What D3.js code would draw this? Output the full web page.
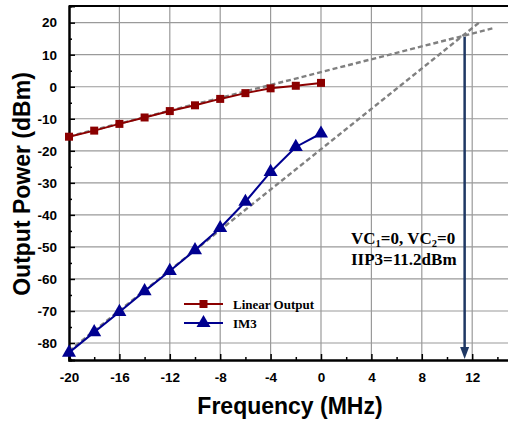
<!DOCTYPE html>
<html><head><meta charset="utf-8">
<script src="https://cdn.jsdelivr.net/npm/d3@7"></script>
<style>body{margin:0;background:#fff}svg{display:block}</style>
</head><body>
<svg id="c" width="508" height="421"></svg>
<script>
const freq = [-20,-18,-16,-14,-12,-10,-8,-6,-4,-2,0];
const linearOutput = [-15.6,-13.7,-11.6,-9.6,-7.6,-5.8,-3.8,-2.0,-0.5,0.3,1.2];
const im3 = [-83.0,-76.6,-70.3,-63.8,-57.5,-51.0,-44.1,-35.9,-26.6,-18.8,-14.6];
const linearFitX = [-20, 13.6];
const linearFitY = [-15.5, 18.2];
const im3FitX = [-20, 12.6];
const im3FitY = [-82.5, 20.2];
const iip3X = 11.4, iip3Y = 16.2;
const xTicks = [-20,-16,-12,-8,-4,0,4,8,12];
const yTicks = [-80,-70,-60,-50,-40,-30,-20,-10,0,10,20];
const legendLabels = ["Linear Output","IM3"];

const svg = d3.select("#c");
const L = 69, T = 6, B = 360, R = 510;
const x = d3.scaleLinear().domain([-20,15]).range([L,R]);
const y = d3.scaleLinear().domain([-85.3,25.2]).range([B,T]);
const fmt = d => String(d);

// grid
const g = svg.append("g");
g.selectAll(".gx").data(xTicks.slice(1)).join("line")
  .attr("x1",d=>x(d)).attr("x2",d=>x(d)).attr("y1",T).attr("y2",B)
  .attr("stroke","#9a9a9a").attr("stroke-width",1.2);
g.selectAll(".gy").data(yTicks).join("line")
  .attr("y1",d=>y(d)).attr("y2",d=>y(d)).attr("x1",L).attr("x2",R)
  .attr("stroke","#9a9a9a").attr("stroke-width",1.2);

// axes
const xAxis = d3.axisBottom(x).tickValues(xTicks).tickSize(-6).tickPadding(12).tickFormat(fmt);
const xMinor = d3.axisBottom(x).tickValues(d3.range(-18,15,4)).tickSize(-3).tickFormat("");
const yAxis = d3.axisLeft(y).tickValues(yTicks).tickSize(-6).tickPadding(12).tickFormat(fmt);
const yMinor = d3.axisLeft(y).tickValues(d3.range(-85,25,10)).tickSize(-3).tickFormat("");

function styleAxis(sel){
  sel.select(".domain").attr("stroke","#000").attr("stroke-width",2);
  sel.selectAll(".tick line").attr("stroke","#000").attr("stroke-width",1.5);
  sel.selectAll("text").attr("font-family","Liberation Sans, Arial, sans-serif").attr("font-weight","bold").attr("font-size","13.5px").attr("fill","#000");
}
svg.append("g").attr("transform",`translate(0,${B})`).call(xMinor).call(styleAxis);
svg.append("g").attr("transform",`translate(0,${B})`).call(xAxis).call(styleAxis);
svg.append("g").attr("transform",`translate(${L},0)`).call(yMinor).call(styleAxis);
svg.append("g").attr("transform",`translate(${L},0)`).call(yAxis).call(styleAxis);
svg.append("line").attr("x1",L).attr("x2",R).attr("y1",T).attr("y2",T).attr("stroke","#000").attr("stroke-width",2);

// extrapolation lines
const line = d3.line().x(d=>x(d[0])).y(d=>y(d[1]));
svg.append("path").datum(d3.zip(linearFitX,linearFitY)).attr("d",line)
  .attr("fill","none").attr("stroke","#808080").attr("stroke-width",2.4).attr("stroke-dasharray","5,3");
svg.append("path").datum(d3.zip(im3FitX,im3FitY)).attr("d",line)
  .attr("fill","none").attr("stroke","#808080").attr("stroke-width",2.4).attr("stroke-dasharray","5,3");

// series
const red = "#8b0000", blue = "#000090";
svg.append("path").datum(d3.zip(freq,linearOutput)).attr("d",line)
  .attr("fill","none").attr("stroke",red).attr("stroke-width",2);
svg.append("path").datum(d3.zip(freq,im3)).attr("d",line)
  .attr("fill","none").attr("stroke",blue).attr("stroke-width",2);
const sq = d3.symbol().type(d3.symbolSquare).size(64);
const tri = d3.symbol().type(d3.symbolTriangle).size(85);
svg.selectAll(".sq").data(d3.zip(freq,linearOutput)).join("path")
  .attr("d",sq).attr("transform",d=>`translate(${x(d[0])},${y(d[1])})`).attr("fill",red);
svg.selectAll(".tr").data(d3.zip(freq,im3)).join("path")
  .attr("d",tri).attr("transform",d=>`translate(${x(d[0])},${y(d[1])})`).attr("fill",blue);

// arrow
const ac = "#1f3864";
svg.append("line").attr("x1",x(iip3X)).attr("x2",x(iip3X)).attr("y1",y(iip3Y)+2).attr("y2",B-10)
  .attr("stroke",ac).attr("stroke-width",2.5);
svg.append("path").attr("d",`M${x(iip3X)-4.5},${B-13} L${x(iip3X)+4.5},${B-13} L${x(iip3X)},${B-1} Z`).attr("fill",ac);

// legend
const lg = svg.append("g");
const ly = [304, 323];
[red,blue].forEach((c,i)=>{
  lg.append("line").attr("x1",184).attr("x2",223).attr("y1",ly[i]).attr("y2",ly[i]).attr("stroke",c).attr("stroke-width",2);
  lg.append("path").attr("d",i===0?sq:tri).attr("transform",`translate(203.5,${ly[i]})`).attr("fill",c);
  lg.append("text").attr("x",233).attr("y",ly[i]+4.5).text(legendLabels[i])
    .attr("font-family","Liberation Serif, Times New Roman, serif").attr("font-weight","bold").attr("font-size","13px");
});

// annotation
const af = "17px";
const ann = svg.append("text").attr("x",351).attr("y",244)
  .attr("font-family","Liberation Serif, Times New Roman, serif").attr("font-weight","bold").attr("font-size",af);
ann.append("tspan").text("VC");
ann.append("tspan").text("1").attr("font-size","10.5px").attr("dy",3);
ann.append("tspan").text("=0, VC").attr("dy",-3);
ann.append("tspan").text("2").attr("font-size","10.5px").attr("dy",3);
ann.append("tspan").text("=0").attr("dy",-3);
svg.append("text").attr("x",351).attr("y",265).text("IIP3=11.2dBm")
  .attr("font-family","Liberation Serif, Times New Roman, serif").attr("font-weight","bold").attr("font-size",af);

// titles
svg.append("text").attr("x",290).attr("y",414).attr("text-anchor","middle").text("Frequency (MHz)")
  .attr("font-family","Liberation Sans, Arial, sans-serif").attr("font-weight","bold").attr("font-size","23px");
svg.append("text").attr("transform","translate(30,184) rotate(-90)").attr("text-anchor","middle").text("Output Power (dBm)")
  .attr("font-family","Liberation Sans, Arial, sans-serif").attr("font-weight","bold").attr("font-size","23px");
</script>
</body></html>
